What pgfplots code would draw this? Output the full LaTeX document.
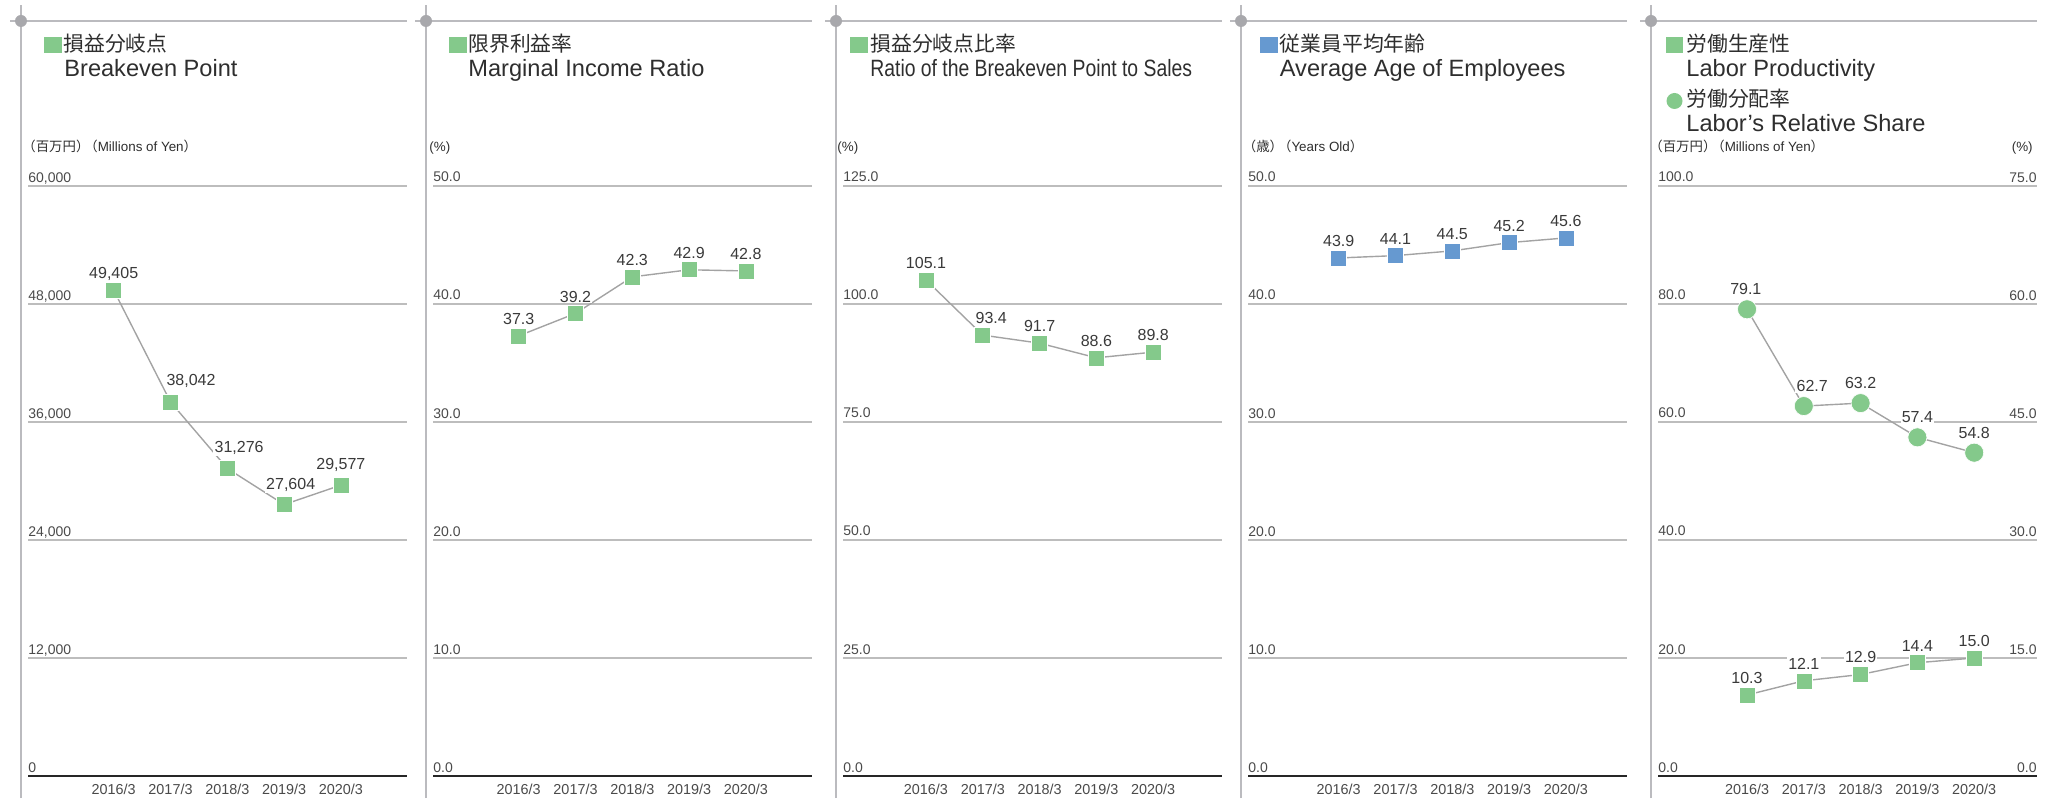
\documentclass[border=0pt]{standalone}
\usepackage{fontspec}
\setmainfont{Liberation Sans}
\newfontfamily\jp{Noto Sans CJK JP}
\usepackage{graphicx}
\usepackage{pgfplots}
\usepackage{pgfplotstable}
\pgfplotsset{compat=1.18}

\definecolor{grn}{HTML}{84C98B}
\definecolor{blu}{HTML}{6699D0}
\definecolor{gridc}{HTML}{BDBDBD}
\definecolor{frm}{HTML}{BBBBBF}
\definecolor{dotc}{HTML}{A8A8AC}
\definecolor{txt}{HTML}{2E2E2E}
\definecolor{lbl}{HTML}{3A3A3A}
\definecolor{tck}{HTML}{4A4A4A}
\definecolor{lin}{HTML}{A3A3A3}

% data: x, value, label text, label shift (pt)
\pgfplotstableread{
x y lab dx dy
0 49405 49,405 0 6
1 38042 38,042 10.25 8
2 31276 31,276 5.9 8
3 27604 27,604 3.3 7.5
4 29577 29,577 0 8
}\bep
\pgfplotstableread{
x y lab dx dy
0 37.3 37.3 0 5.7
1 39.2 39.2 0 5.7
2 42.3 42.3 0 5.7
3 42.9 42.9 0 5.7
4 42.8 42.8 0 5.7
}\mir
\pgfplotstableread{
x y lab dx dy
0 105.1 105.1 0 5.7
1 93.4 93.4 4.2 5.7
2 91.7 91.7 0 5.7
3 88.6 88.6 0 5.7
4 89.8 89.8 0 5.7
}\rbs
\pgfplotstableread{
x y lab dx dy
0 43.9 43.9 0 5.7
1 44.1 44.1 0 5.7
2 44.5 44.5 0 5.7
3 45.2 45.2 0 5.7
4 45.6 45.6 0 5.7
}\age
\pgfplotstableread{
x y lab dx dy
0 79.1 79.1 -0.6 7.25
1 62.7 62.7 4.2 7.25
2 63.2 63.2 0 7.25
3 57.4 57.4 0 7.25
4 54.8 54.8 0 7.25
}\lrs
\pgfplotstableread{
x y lab dx dy
0 10.3 10.3 0 5.8
1 12.1 12.1 0 5.8
2 12.9 12.9 0 5.8
3 14.4 14.4 0 5.8
4 15.0 15.0 0 5.8
}\lpr

\pgfplotsset{
  panel/.style={
    anchor=south west, scale only axis, width=189.5pt, height=295pt,
    axis x line*=bottom, axis y line*=left,
    x axis line style={draw=black!85, line width=1pt},
    y axis line style={draw=none},
    major tick length=0pt,
    ymajorgrids, grid style={draw=gridc, line width=0.6pt},
    xtick={0,...,4}, xticklabels={2016/3,2017/3,2018/3,2019/3,2020/3},
    xticklabel style={font=\fontsize{7.2}{8}\selectfont, text=tck, anchor=base, inner sep=0pt, yshift=-9pt},
    yticklabel style={font=\fontsize{7}{8}\selectfont, text=tck, anchor=base west, inner sep=0pt, yshift=2pt,
      /pgf/number format/fixed, /pgf/number format/fixed zerofill, /pgf/number format/precision=1},
    /pgf/number format/assume math mode=true,
    scaled y ticks=false, ymin=0, clip=false,
  },
  ser/.style={
    draw=lin, line width=0.7pt, mark=square*, mark size=4pt,
    mark options={fill=#1, draw=white, line width=0.3pt},
    point meta=explicit symbolic, nodes near coords,
    visualization depends on={\thisrow{dx} \as \dx},
    visualization depends on={\thisrow{dy} \as \dy},
    nodes near coords style={anchor=base, xshift=\dx pt, yshift=\dy pt,
      font=\fontsize{8}{9}\selectfont, text=lbl, fill=white, inner sep=0.6pt},
  },
}
\tikzset{
  jt/.style={anchor=base west, inner sep=0pt, text=txt, font=\jp\fontsize{10.4}{12}\selectfont},
  et/.style={anchor=base west, inner sep=0pt, text=txt, font=\fontsize{11.8}{14}\selectfont},
  ut/.style={anchor=base west, inner sep=0pt, text=txt, font=\fontsize{6.7}{8}\selectfont},
}

\begin{document}
\begin{tikzpicture}
\path[use as bounding box] (0,0) rectangle (1030pt,399pt);

% panel frames
\foreach \L in {10.5,213,418,620.5,825.5}{
  \draw[frm, line width=0.8pt] (\L pt,0pt) -- (\L pt,396.5pt);
  \draw[frm, line width=0.8pt] (\L pt-5.5pt,388.5pt) -- (\L pt+193pt,388.5pt);
  \fill[dotc] (\L pt,388.5pt) circle (3pt);
}

% titles
\fill[grn] (22pt,372.5pt) rectangle (31pt,380.5pt);
\node[jt] at (31.5pt,373pt) {損益分岐点};
\node[et] at (32pt,360.5pt) {Breakeven Point};
\node[ut] at (11pt,323pt) {{\jp （百万円）\kern-2.5pt（}Millions of Yen{\jp ）}};

\fill[grn] (224.5pt,372.5pt) rectangle (233.5pt,380.5pt);
\node[jt] at (234pt,373pt) {限界利益率};
\node[et] at (234pt,360.5pt) {Marginal Income Ratio};
\node[ut] at (214.5pt,323pt) {(\%)};

\fill[grn] (425pt,372.5pt) rectangle (433.75pt,380.5pt);
\node[jt] at (435pt,373pt) {損益分岐点比率};
\node[et] at (435pt,360.5pt) {\scalebox{0.82}[1]{Ratio of the Breakeven Point to Sales}};
\node[ut] at (418.5pt,323pt) {(\%)};

\fill[blu] (630pt,372.5pt) rectangle (639pt,380.5pt);
\node[jt] at (639.75pt,373pt) {従業員平均年齢};
\node[et] at (639.75pt,360.5pt) {Average Age of Employees};
\node[ut] at (621.25pt,323pt) {{\jp （歳）\kern-2.5pt（}Years Old{\jp ）}};

\fill[grn] (833pt,372.5pt) rectangle (841.5pt,380.5pt);
\node[jt] at (843pt,373pt) {労働生産性};
\node[et] at (843pt,360.5pt) {Labor Productivity};
\fill[grn] (837.25pt,348.5pt) circle (4pt);
\node[jt] at (843pt,345.5pt) {労働分配率};
\node[et] at (843pt,333pt) {Labor’s Relative Share};
\node[ut] at (824.5pt,323pt) {{\jp （百万円）\kern-2.5pt（}Millions of Yen{\jp ）}};
\node[ut, anchor=base east] at (1016.5pt,323pt) {(\%)};

% 1 breakeven point
\begin{axis}[panel, at={(14pt,11pt)}, xmin=-1.509, xmax=5.164,
  ymax=60000, ytick={0,12000,...,60000},
  yticklabel style={/pgf/number format/precision=0, /pgf/number format/fixed zerofill=false,
    /pgf/number format/1000 sep={,}}]
\addplot[ser=grn] table[x=x, y=y, meta=lab] {\bep};
\end{axis}

% 2 marginal income ratio
\begin{axis}[panel, at={(216.5pt,11pt)}, xmin=-1.509, xmax=5.164,
  ymax=50, ytick={0,10,...,50}]
\addplot[ser=grn] table[x=x, y=y, meta=lab] {\mir};
\end{axis}

% 3 ratio of breakeven point to sales
\begin{axis}[panel, at={(421.5pt,11pt)}, xmin=-1.461, xmax=5.212,
  ymax=125, ytick={0,25,...,125}]
\addplot[ser=grn] table[x=x, y=y, meta=lab] {\rbs};
\end{axis}

% 4 average age
\begin{axis}[panel, at={(624pt,11pt)}, xmin=-1.597, xmax=5.076,
  ymax=50, ytick={0,10,...,50}]
\addplot[ser=blu] table[x=x, y=y, meta=lab] {\age};
\end{axis}

% 5 labor's relative share (left scale)
\begin{axis}[panel, at={(829pt,11pt)}, xmin=-1.567, xmax=5.106,
  ymax=100, ytick={0,20,...,100}]
\addplot[ser=grn, mark=*, mark size=4.75pt] table[x=x, y=y, meta=lab] {\lrs};
\end{axis}
% labor productivity (right scale)
\begin{axis}[panel, at={(829pt,11pt)}, xmin=-1.567, xmax=5.106,
  axis y line*=right, ymajorgrids=false, xtick=\empty,
  x axis line style={draw=none},
  yticklabel style={anchor=base east},
  ymax=75, ytick={0,15,...,75}]
\addplot[ser=grn] table[x=x, y=y, meta=lab] {\lpr};
\end{axis}
\end{tikzpicture}
\end{document}
